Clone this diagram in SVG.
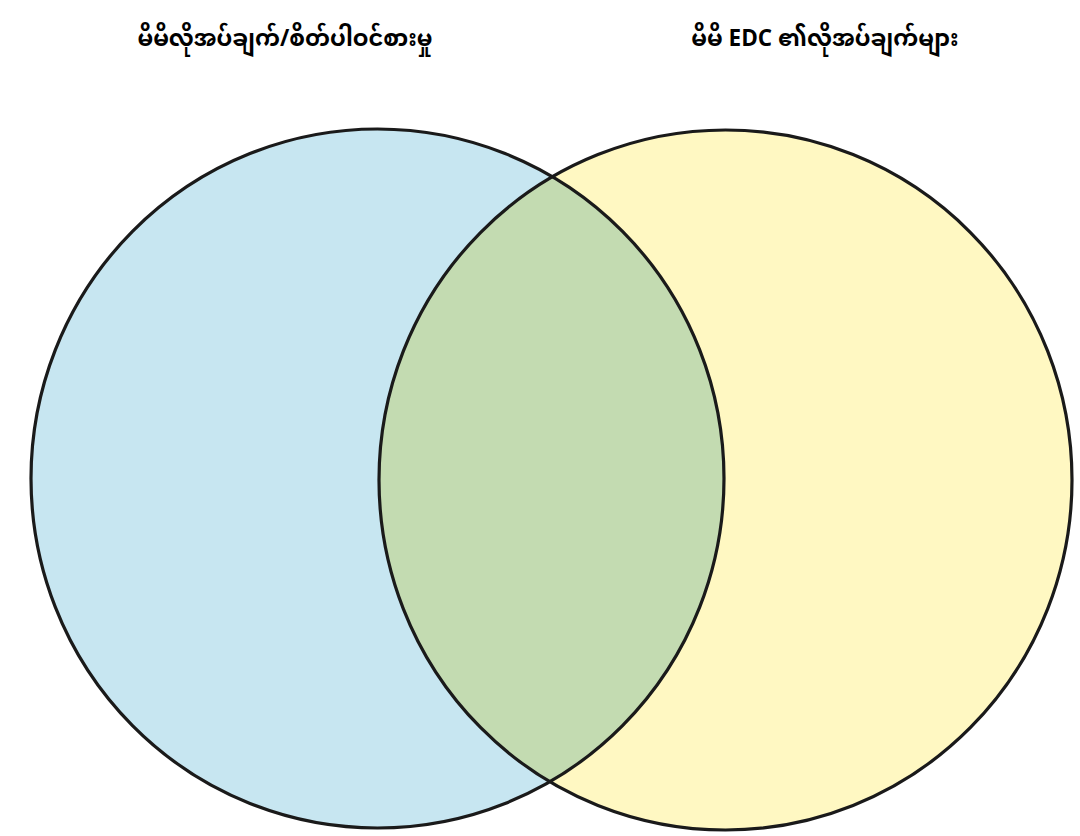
<svg xmlns="http://www.w3.org/2000/svg" width="1080" height="836" viewBox="0 0 1080 836">
<style>
.t{font-family:"Noto Sans Myanmar","Padauk","Myanmar Text","Liberation Sans",sans-serif;font-weight:bold;font-size:22.5px;fill:#000;text-anchor:middle}
.o{fill:none;stroke:#1a1a1a;stroke-width:3.2}
</style>
<defs>
<clipPath id="cl"><ellipse cx="377.5" cy="478.5" rx="346.5" ry="349.5"/></clipPath>
</defs>
<rect width="1080" height="836" fill="#fff"/>
<g id="left-set">
<ellipse cx="377.5" cy="478.5" rx="346.5" ry="349.5" fill="#c7e6f1"/>
</g>
<g id="right-set">
<ellipse cx="725.5" cy="480" rx="346.5" ry="350" fill="#fff8c2"/>
</g>
<g id="overlap">
<ellipse cx="725.5" cy="480" rx="346.5" ry="350" fill="#c3dbb1" clip-path="url(#cl)"/>
</g>
<g id="outlines">
<ellipse class="o" cx="377.5" cy="478.5" rx="346.5" ry="349.5"/>
<ellipse class="o" cx="725.5" cy="480" rx="346.5" ry="350"/>
</g>
<g id="labels">
<text class="t" x="285" y="46">မိမိလိုအပ်ချက်/စိတ်ပါဝင်စားမှု</text>
<text class="t" x="825" y="46">မိမိ EDC ၏လိုအပ်ချက်များ</text>
</g>
</svg>
